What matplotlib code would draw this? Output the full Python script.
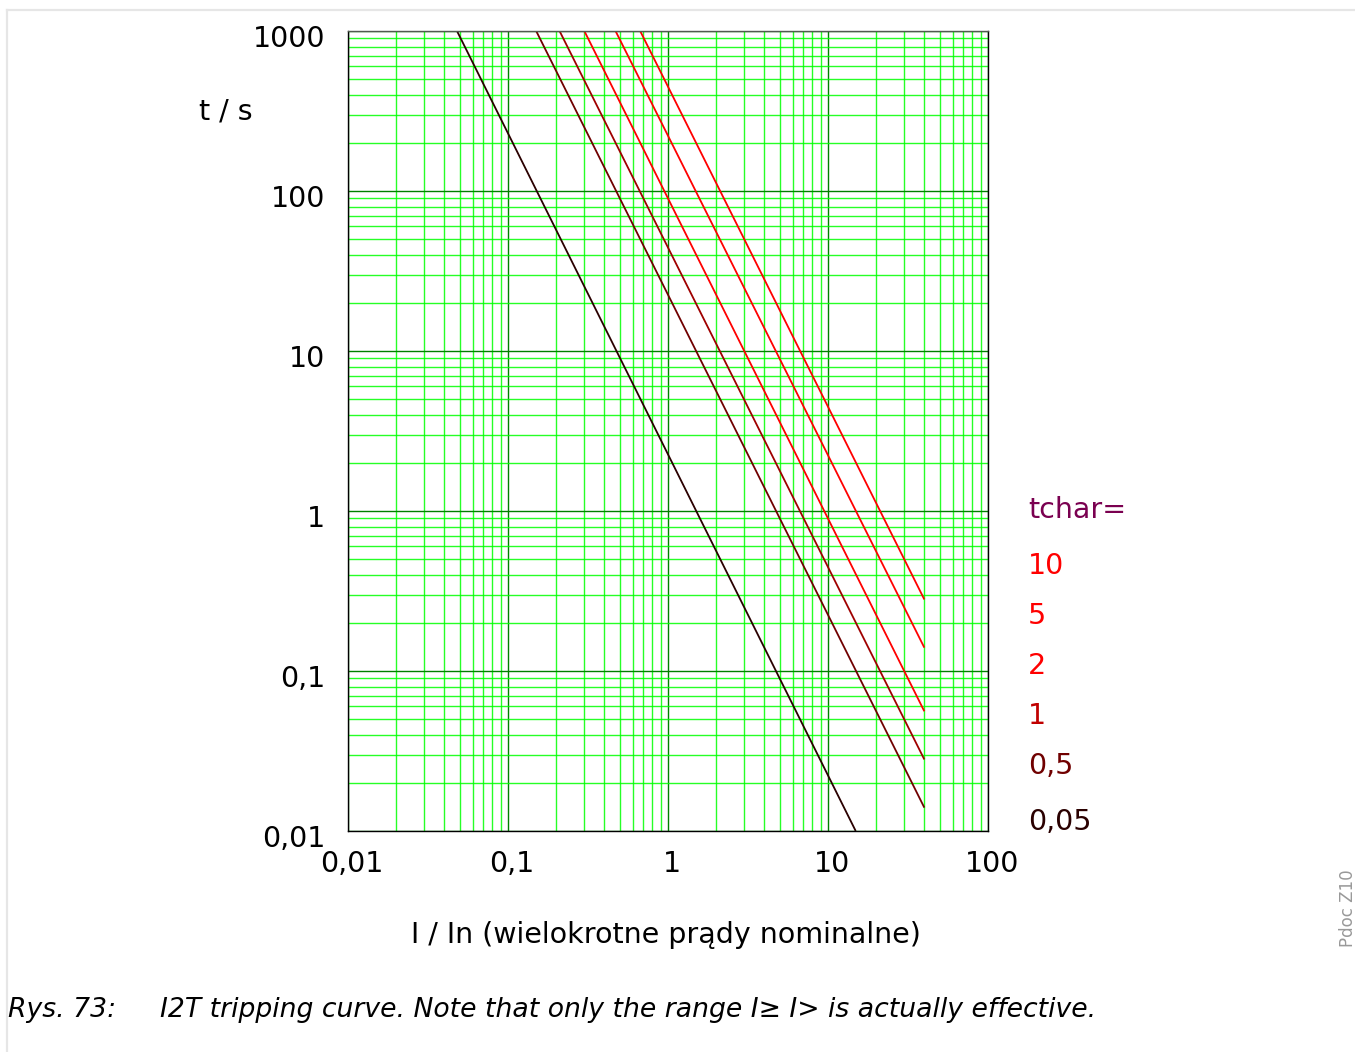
import matplotlib
matplotlib.use("Agg")
import matplotlib.pyplot as plt
import matplotlib.transforms as mtransforms
from matplotlib.lines import Line2D
import numpy as np

# ---- data ----
tchar_labels = ["10", "5", "2", "1", "0,5", "0,05"]
curve_I_start = [0.67, 0.47, 0.30, 0.21, 0.15, 0.048]   # I/In where t = 1000 s
curve_t_start = [1000, 1000, 1000, 1000, 1000, 1000]
curve_I_end = [40, 40, 40, 40, 40, 14.9]
curve_t_end = [0.28, 0.14, 0.056, 0.028, 0.014, 0.01]
curve_colors = ["#ff0000", "#ff0000", "#ff0000", "#a00000", "#700000", "#2a0000"]
label_colors = ["#ff0000", "#ff0000", "#ff0000", "#c00000", "#700000", "#2a0000"]

x_ticks = [0.01, 0.1, 1, 10, 100]
x_tick_labels = ["0,01", "0,1", "1", "10", "100"]
y_ticks = [0.01, 0.1, 1, 10, 100, 1000]
y_tick_labels = ["0,01", "0,1", "1", "10", "100", "1000"]

W, H = 1355, 1052
DPI = 100
fig = plt.figure(figsize=(W / DPI, H / DPI), dpi=DPI)
fig.patch.set_facecolor("white")

def px(x, y):
    return x / W, 1 - y / H

# frame border
fig.add_artist(Line2D([7 / W, 7 / W], [0, 1 - 10 / H], transform=fig.transFigure,
                      color="#e6e6e6", lw=1.6))
fig.add_artist(Line2D([7 / W, 1], [1 - 10 / H, 1 - 10 / H], transform=fig.transFigure,
                      color="#e6e6e6", lw=1.6))

ax_l, ax_r, ax_t, ax_b = 348, 988, 31, 831
ax = fig.add_axes([ax_l / W, 1 - ax_b / H, (ax_r - ax_l) / W, (ax_b - ax_t) / H])
ax.set_xscale("log")
ax.set_yscale("log")
ax.set_xlim(0.01, 100)
ax.set_ylim(0.01, 1000)

# grid
ax.grid(True, which="minor", color="#00ff00", lw=1.0, alpha=0.85)
ax.grid(True, which="major", color="#008000", lw=1.0)
ax.xaxis.set_minor_locator(matplotlib.ticker.LogLocator(base=10, subs=np.arange(2, 10)))
ax.yaxis.set_minor_locator(matplotlib.ticker.LogLocator(base=10, subs=np.arange(2, 10)))
ax.tick_params(which="both", length=0, labelbottom=False, labelleft=False)
ax.set_xticks(x_ticks)
ax.set_yticks(y_ticks)
ax.set_axisbelow(True)
for s in ax.spines.values():
    s.set_color("black")
    s.set_linewidth(1.0)
ax.spines["top"].set_color("#505a50")

# curves
for i0, t0, i1, t1, c in zip(curve_I_start, curve_t_start, curve_I_end, curve_t_end, curve_colors):
    ax.plot([i0, i1], [t0, t1], color=c, lw=1.3, solid_capstyle="butt", clip_on=True)

fs = 20.5
# y tick labels
ytr = mtransforms.offset_copy(ax.get_yaxis_transform(), fig=fig, x=-23 * 0.72, y=-8 * 0.72, units="points")
for v, lab in zip(y_ticks, y_tick_labels):
    ax.text(0, v, lab, transform=ytr, ha="right", va="center", fontsize=fs, color="black")
# x tick labels
xtr = mtransforms.offset_copy(ax.get_xaxis_transform(), fig=fig, x=4 * 0.72, y=-33 * 0.72, units="points")
for v, lab in zip(x_ticks, x_tick_labels):
    ax.text(v, 0, lab, transform=xtr, ha="center", va="center", fontsize=fs, color="black")

# axis titles
fig.text(*px(226, 112), "t / s", ha="center", va="center", fontsize=fs)
fig.text(*px(666, 935), "I / In (wielokrotne prądy nominalne)", ha="center", va="center", fontsize=fs)

# tchar legend
fig.text(*px(1028, 510), "tchar=", ha="left", va="center", fontsize=fs, color="#7a0050")
label_y = [566, 616, 666, 716, 766, 822]
for lab, c, yy in zip(tchar_labels, label_colors, label_y):
    fig.text(*px(1028, yy), lab, ha="left", va="center", fontsize=fs, color=c)

# side note
fig.text(*px(1348, 908), "Pdoc Z10", rotation=90, ha="center", va="center", fontsize=12, color="#999999")

# caption
fig.text(*px(8, 1010), "Rys. 73:", ha="left", va="center", fontsize=19.2, style="italic")
fig.text(*px(160, 1010), "I2T tripping curve. Note that only the range I\u2265 I> is actually effective.",
         ha="left", va="center", fontsize=19.2, style="italic")

fig.savefig("out.png", dpi=DPI, facecolor="white")
